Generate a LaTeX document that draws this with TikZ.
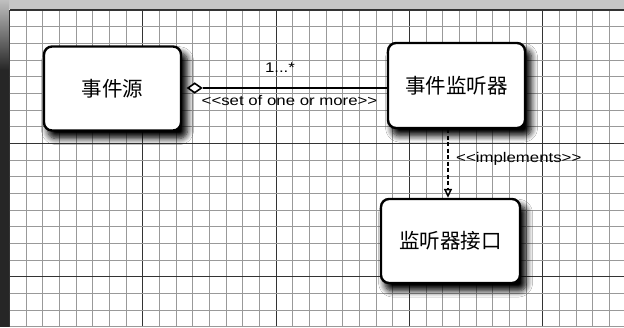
\documentclass[tikz,border=0pt]{standalone}
\usepackage{fontspec}
\setmainfont{Liberation Sans}[Ligatures=TeXOff]
\newfontfamily\cjk{Noto Sans CJK SC}
\usetikzlibrary{arrows.meta,shapes.geometric,shadows.blur}
\tikzset{
  minorline/.style={draw=black!40, line width=0.8pt},
  majorline/.style={draw=black!80, line width=1.2pt},
  classbox/.style={draw=black, line width=2.4pt, fill=white, rounded corners=8pt,
    minimum width=137pt, minimum height=84pt, inner sep=0pt,
    font=\cjk\fontsize{20.5}{22}\selectfont,
    blur shadow={shadow xshift=5pt, shadow yshift=-7pt, shadow scale=1.02, shadow blur radius=6pt, shadow opacity=100, shadow blur steps=8}},
  lbl/.style={inner sep=0pt, font=\fontsize{14}{16}\selectfont},
  aggdia/.style={diamond, draw=black, line width=1.6pt, fill=white, minimum width=14pt, minimum height=10pt, inner sep=0pt, aspect=1.4},
  assoc/.style={draw=black, line width=1.8pt},
  realize/.style={draw=black, line width=1.8pt, dash pattern=on 4pt off 2.5pt,
    -{Triangle[open, width=8pt, length=9pt, line width=1.5pt]}}
}
\newcommand{\wx}[1]{\scalebox{1.2}[1]{#1}}
\begin{document}
\begin{tikzpicture}[x=1pt,y=-1pt]
\useasboundingbox (0,0) rectangle (624,327);
\fill[white] (0,0) rectangle (624,327);
% scanned border
\fill[black!22] (0,0) rectangle (624,9);
\shade[top color=black!25, bottom color=black!85] (0,0) rectangle (9,70);
\fill[black!85] (0,70) rectangle (9,327);
% grid
\foreach \i in {0,...,36}{
  \pgfmathtruncatemacro{\m}{mod(\i,8)}
  \ifnum\m=0
    \draw[majorline] ({9.5+\i*16.667},9.5) -- ({9.5+\i*16.667},327);
  \else
    \draw[minorline] ({9.5+\i*16.667},9.5) -- ({9.5+\i*16.667},327);
  \fi
}
\foreach \j in {0,...,19}{
  \pgfmathtruncatemacro{\m}{mod(\j,8)}
  \ifnum\m=0
    \draw[majorline] (9.5,{10+\j*16.667}) -- (624,{10+\j*16.667});
  \else
    \draw[minorline] (9.5,{10+\j*16.667}) -- (624,{10+\j*16.667});
  \fi
}
% boxes
\node[classbox] (src) at (112.5,88.5) {事件源};
\node[classbox, minimum height=85pt] (lis) at (456.5,85.5) {事件监听器};
\node[classbox, minimum width=139pt] (intf) at (450.5,241) {监听器接口};
% aggregation
\node[aggdia] (dia) at (194.7,88) {};
\draw[assoc] (dia.east) -- (dia.east -| lis.west);
\node[lbl] (mult) at (280,68) {\wx{1...*}};
\node[lbl] (setlbl) at (289.5,100.5) {\wx{<<set of one or more>>}};
% realization
\coordinate (ds) at ([xshift=-8.5pt]lis.south);
\draw[realize] (ds) -- (ds |- intf.north);
\node[lbl, anchor=west] (impl) at (456,159) {\wx{<<implements>>}};
\end{tikzpicture}
\end{document}
